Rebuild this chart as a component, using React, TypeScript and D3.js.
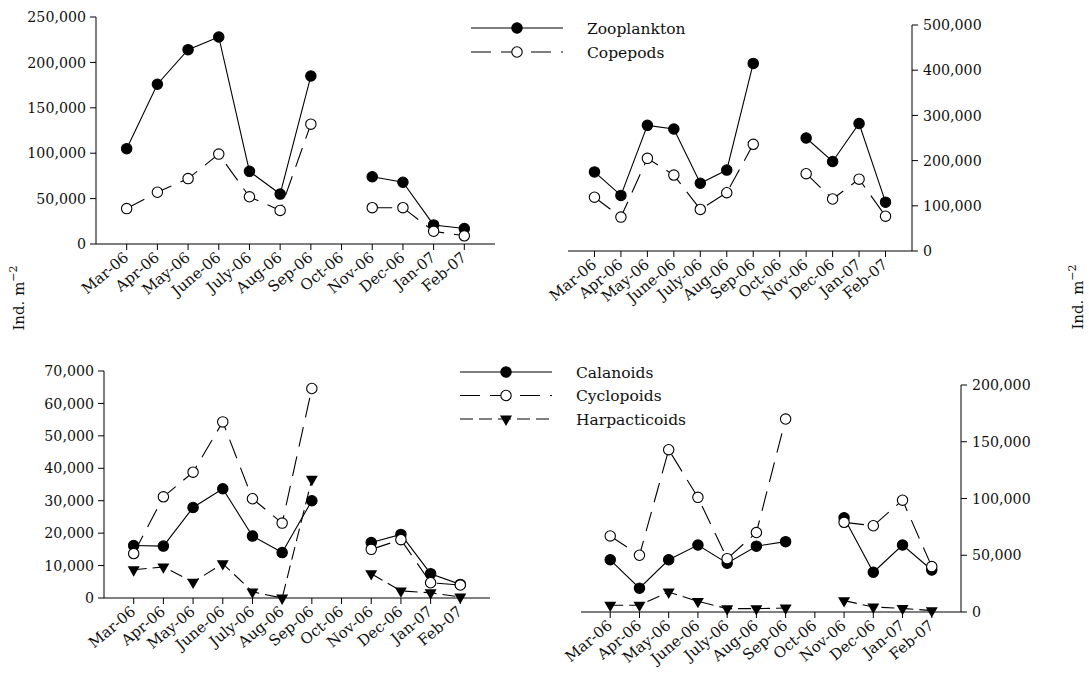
import * as d3 from "d3"

const months = ["Mar-06", "Apr-06", "May-06", "June-06", "July-06", "Aug-06", "Sep-06", "Oct-06", "Nov-06", "Dec-06", "Jan-07", "Feb-07"]

// top row: left and right panels
const zooLeft = [105000, 176000, 214000, 228000, 80000, 55000, 185000, null, 74000, 68000, 21000, 17000]
const copeLeft = [39000, 57000, 72000, 99000, 52000, 37000, 132000, null, 40000, 40000, 14000, 9000]
const zooRight = [175000, 123000, 278000, 270000, 150000, 179000, 415000, null, 250000, 198000, 282000, 108000]
const copeRight = [119000, 75000, 205000, 168000, 92000, 129000, 236000, null, 171000, 115000, 159000, 77000]

// bottom row
const calLeft = [16200, 16000, 27900, 33700, 19100, 14000, 30000, null, 17100, 19600, 7500, 4200]
const cycLeft = [13700, 31200, 38800, 54300, 30600, 23100, 64600, null, 15000, 18000, 4700, 4000]
const harLeft = [8700, 9600, 4900, 10600, 1900, 0, 36600, null, 7500, 2200, 1600, 300]
const calRight = [46000, 21000, 46000, 59000, 43000, 58000, 62000, null, 83000, 35000, 59000, 37000]
const cycRight = [67000, 50000, 143000, 101000, 47000, 70000, 170000, null, 79000, 76000, 98500, 40000]
const harRight = [6000, 6000, 17600, 9400, 3000, 3000, 3500, null, 10000, 4400, 3200, 1200]

const ticksTL = [0, 50000, 100000, 150000, 200000, 250000]
const ticksTR = [0, 100000, 200000, 300000, 400000, 500000]
const ticksBL = [0, 10000, 20000, 30000, 40000, 50000, 60000, 70000]
const ticksBR = [0, 50000, 100000, 150000, 200000]

type Marker = "filled" | "open" | "triangle"
interface Series {
  name: string
  values: (number | null)[]
  marker: Marker
  dash: string
}

const FONT = "'DejaVu Serif', serif"
const INK = "#111"
const fmt = d3.format(",")

const topSeries = (zoo: (number | null)[], cope: (number | null)[]): Series[] => [
  { name: "Zooplankton", values: zoo, marker: "filled", dash: "none" },
  { name: "Copepods", values: cope, marker: "open", dash: "20,10" },
]
const bottomSeries = (cal: (number | null)[], cyc: (number | null)[], har: (number | null)[]): Series[] => [
  { name: "Calanoids", values: cal, marker: "filled", dash: "none" },
  { name: "Cyclopoids", values: cyc, marker: "open", dash: "20,10" },
  { name: "Harpacticoids", values: har, marker: "triangle", dash: "13,6" },
]

const triangle = d3.symbol(d3.symbolTriangle, 62)()

function MarkerShape({ type, x, y }: { type: Marker; x: number; y: number }) {
  if (type === "triangle")
    return <path d={triangle ?? ""} transform={`translate(${x},${y}) rotate(180)`} fill="#000" />
  return <circle cx={x} cy={y} r={5.2} fill={type === "filled" ? "#000" : "#fff"} stroke="#000" strokeWidth={1.1} />
}

interface PanelProps {
  x0: number
  x1: number
  y0: number
  y1: number
  max: number
  ticks: number[]
  side: "left" | "right"
  series: Series[]
}

function Panel({ x0, x1, y0, y1, max, ticks, side, series }: PanelProps) {
  const x = d3.scalePoint<string>().domain(months).range([x0, x1]).padding(1)
  const y = d3.scaleLinear().domain([0, max]).range([y0, y1])
  const axisX = side === "left" ? x0 : x1
  const line = d3
    .line<number | null>()
    .defined((d) => d !== null)
    .x((_d, i) => x(months[i]) ?? 0)
    .y((d) => y(d ?? 0))

  return (
    <g>
      {/* axe x */}
      <line x1={x0} x2={x1} y1={y0} y2={y0} stroke="#000" strokeWidth={1} />
      {months.map((m) => (
        <g key={m}>
          <line x1={x(m)} x2={x(m)} y1={y0} y2={y0 + 6} stroke="#000" strokeWidth={1} />
          <text
            transform={`translate(${(x(m) ?? 0) + 3},${y0 + 15}) rotate(-40)`}
            textAnchor="end"
            fontFamily={FONT}
            fontSize={15}
            fill={INK}
          >
            {m}
          </text>
        </g>
      ))}
      {/* axe y */}
      <line x1={axisX} x2={axisX} y1={y0} y2={y1} stroke="#000" strokeWidth={1} />
      {ticks.map((t) => (
        <g key={t}>
          <line
            x1={axisX}
            x2={side === "left" ? axisX - 6 : axisX + 6}
            y1={y(t)}
            y2={y(t)}
            stroke="#000"
            strokeWidth={1}
          />
          <text
            x={side === "left" ? axisX - 10 : axisX + 11}
            y={y(t)}
            dy="0.36em"
            textAnchor={side === "left" ? "end" : "start"}
            fontFamily={FONT}
            fontSize={14.2}
            fill={INK}
          >
            {fmt(t)}
          </text>
        </g>
      ))}
      {/* lignes */}
      {series.map((s) => (
        <path key={s.name} d={line(s.values) ?? ""} fill="none" stroke="#000" strokeWidth={1.1} strokeDasharray={s.dash} />
      ))}
      {/* marqueurs */}
      {series.map((s) =>
        s.values.map((v, i) =>
          v === null ? null : <MarkerShape key={s.name + i} type={s.marker} x={x(months[i]) ?? 0} y={y(v)} />
        )
      )}
    </g>
  )
}

function Legend({ series, x, y, gap }: { series: Series[]; x: number; y: number; gap: number }) {
  return (
    <g>
      {series.map((s, i) => {
        const yy = y + i * gap
        return (
          <g key={s.name}>
            <line x1={x} x2={x + 92} y1={yy} y2={yy} stroke="#000" strokeWidth={1.1} strokeDasharray={s.dash} />
            <MarkerShape type={s.marker} x={x + 46} y={yy} />
            <text x={x + 116} y={yy} dy="0.36em" fontFamily={FONT} fontSize={15.5} fill={INK}>
              {s.name}
            </text>
          </g>
        )
      })}
    </g>
  )
}

function UnitLabel({ x, y }: { x: number; y: number }) {
  return (
    <text transform={`translate(${x},${y}) rotate(-90)`} textAnchor="middle" fontFamily={FONT} fontSize={15} fill={INK}>
      Ind. m
      <tspan dy={-7} fontSize={11}>
        −2
      </tspan>
    </text>
  )
}

export default function App() {
  const top = topSeries(zooLeft, copeLeft)
  const bottom = bottomSeries(calLeft, cycLeft, harLeft)
  return (
    <svg width={1089} height={674} style={{ position: "absolute", left: 0, top: 0, background: "#fff" }}>
      <Panel x0={96} x1={495} y0={244} y1={17} max={250000} ticks={ticksTL} side="left" series={top} />
      <Panel x0={568} x1={912} y0={251} y1={25} max={500000} ticks={ticksTR} side="right" series={topSeries(zooRight, copeRight)} />
      <Panel x0={104} x1={490} y0={598} y1={371} max={70000} ticks={ticksBL} side="left" series={bottom} />
      <Panel
        x0={581}
        x1={961}
        y0={612}
        y1={385}
        max={200000}
        ticks={ticksBR}
        side="right"
        series={bottomSeries(calRight, cycRight, harRight)}
      />
      <Legend series={top} x={471} y={28} gap={24} />
      <Legend series={bottom} x={460} y={372} gap={23.5} />
      <UnitLabel x={24} y={298} />
      <UnitLabel x={1083} y={297} />
    </svg>
  )
}
